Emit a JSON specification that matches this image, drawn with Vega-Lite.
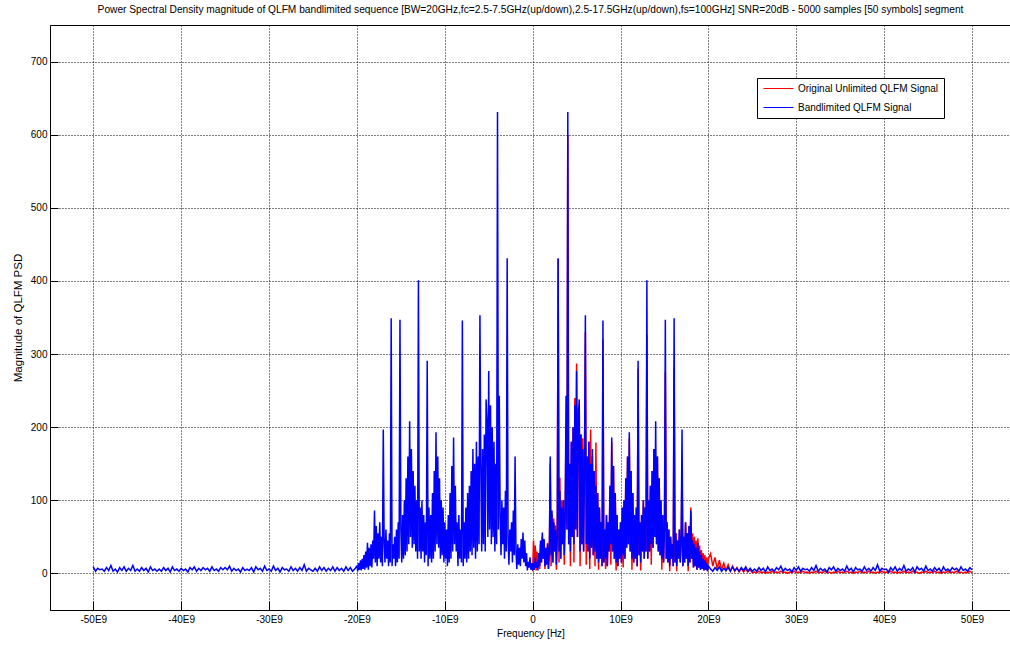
{
"$schema": "https://vega.github.io/schema/vega-lite/v6.json",
"autosize": "none",
"width": 961,
"height": 585,
"padding": {"left": 50, "top": 25, "right": 0, "bottom": 38},
"background": "white",
"title": {"text": "Power Spectral Density magnitude of QLFM bandlimited sequence [BW=20GHz,fc=2.5-7.5GHz(up/down),2.5-17.5GHz(up/down),fs=100GHz] SNR=20dB - 5000 samples [50 symbols] segment", "font": "Liberation Sans", "fontSize": 10.2, "fontWeight": "normal", "color": "#000", "anchor": "middle", "offset": 10},
"config": {
"view": {"stroke": "#000", "strokeWidth": 1},
"font": "Liberation Sans",
"axis": {"grid": true, "gridColor": "#000", "gridDash": [1,2], "gridWidth": 1, "gridOpacity": 1,
"domainColor": "#000", "domainWidth": 1, "tickColor": "#000", "tickWidth": 1,
"labelFont": "Liberation Sans", "labelFontSize": 10, "labelColor": "#000", "labelFlush": false, "labelOverlap": false,
"titleFont": "Liberation Sans", "titleFontWeight": "normal", "titleColor": "#000"},
"axisX": {"tickSize": -9, "labelPadding": 13, "titleFontSize": 10, "titlePadding": 4},
"axisY": {"tickSize": -8, "labelPadding": 11, "titleFontSize": 11.5, "titlePadding": 7}
},
"datasets": {"psd": [
{"f":0,"b":4,"r":3},{"f":0.1,"b":14,"r":45},{"f":0.2,"b":5,"r":8},{"f":0.3,"b":22,"r":38},{"f":0.4,"b":8,"r":4},{"f":0.5,"b":16,"r":30},{"f":0.6,"b":4,"r":9},{"f":0.7,"b":28,"r":22},{"f":0.8,"b":10,"r":6},{"f":0.9,"b":45,"r":40},
{"f":1,"b":15,"r":15},{"f":1.1,"b":56,"r":50},{"f":1.2,"b":20,"r":20},{"f":1.3,"b":47,"r":45},{"f":1.4,"b":10,"r":6},{"f":1.5,"b":35,"r":30},{"f":1.6,"b":12,"r":12},{"f":1.7,"b":40,"r":42},{"f":1.8,"b":6,"r":6},{"f":1.9,"b":30,"r":28},
{"f":2,"b":160,"r":150},{"f":2.1,"b":25,"r":10},{"f":2.2,"b":86,"r":81},{"f":2.3,"b":15,"r":15},{"f":2.4,"b":70,"r":75},{"f":2.5,"b":30,"r":30},{"f":2.6,"b":60,"r":66},{"f":2.7,"b":12,"r":5},{"f":2.8,"b":50,"r":50},{"f":2.9,"b":431,"r":430},
{"f":3,"b":30,"r":15},{"f":3.1,"b":113,"r":131},{"f":3.2,"b":20,"r":20},{"f":3.3,"b":90,"r":100},{"f":3.4,"b":40,"r":40},{"f":3.5,"b":100,"r":100},{"f":3.6,"b":25,"r":12},{"f":3.7,"b":80,"r":80},{"f":3.8,"b":243,"r":200},{"f":3.9,"b":60,"r":60},
{"f":4,"b":631,"r":600},{"f":4.1,"b":40,"r":40},{"f":4.2,"b":150,"r":150},{"f":4.3,"b":30,"r":10},{"f":4.4,"b":180,"r":180},{"f":4.5,"b":50,"r":50},{"f":4.6,"b":200,"r":200},{"f":4.7,"b":40,"r":15},{"f":4.8,"b":230,"r":240},{"f":4.9,"b":60,"r":60},
{"f":5,"b":277,"r":287},{"f":5.1,"b":50,"r":50},{"f":5.2,"b":210,"r":225},{"f":5.3,"b":238,"r":230},{"f":5.4,"b":30,"r":10},{"f":5.5,"b":190,"r":190},{"f":5.6,"b":40,"r":40},{"f":5.7,"b":170,"r":185},{"f":5.8,"b":30,"r":30},{"f":5.9,"b":150,"r":150},
{"f":6,"b":353,"r":330},{"f":6.1,"b":40,"r":12},{"f":6.2,"b":160,"r":160},{"f":6.3,"b":30,"r":30},{"f":6.4,"b":180,"r":180},{"f":6.5,"b":20,"r":6},{"f":6.6,"b":150,"r":197},{"f":6.7,"b":35,"r":35},{"f":6.8,"b":170,"r":160},{"f":6.9,"b":25,"r":25},
{"f":7,"b":140,"r":140},{"f":7.1,"b":30,"r":10},{"f":7.2,"b":120,"r":179},{"f":7.3,"b":20,"r":20},{"f":7.4,"b":110,"r":110},{"f":7.5,"b":15,"r":5},{"f":7.6,"b":90,"r":90},{"f":7.7,"b":20,"r":20},{"f":7.8,"b":70,"r":70},{"f":7.9,"b":10,"r":10},
{"f":8,"b":346,"r":320},{"f":8.1,"b":15,"r":15},{"f":8.2,"b":60,"r":60},{"f":8.3,"b":20,"r":6},{"f":8.4,"b":80,"r":80},{"f":8.5,"b":10,"r":10},{"f":8.6,"b":70,"r":70},{"f":8.7,"b":30,"r":30},{"f":8.8,"b":120,"r":120},{"f":8.9,"b":40,"r":12},
{"f":9,"b":186,"r":180},{"f":9.1,"b":30,"r":30},{"f":9.2,"b":147,"r":147},{"f":9.3,"b":20,"r":20},{"f":9.4,"b":110,"r":110},{"f":9.5,"b":15,"r":4},{"f":9.6,"b":80,"r":80},{"f":9.7,"b":10,"r":10},{"f":9.8,"b":60,"r":60},{"f":9.9,"b":20,"r":20},
{"f":10,"b":70,"r":70},{"f":10.1,"b":15,"r":15},{"f":10.2,"b":90,"r":90},{"f":10.3,"b":25,"r":8},{"f":10.4,"b":100,"r":100},{"f":10.5,"b":20,"r":20},{"f":10.6,"b":130,"r":130},{"f":10.7,"b":35,"r":35},{"f":10.8,"b":160,"r":160},{"f":10.9,"b":40,"r":40},
{"f":11,"b":193,"r":185},{"f":11.1,"b":30,"r":30},{"f":11.2,"b":140,"r":140},{"f":11.3,"b":20,"r":5},{"f":11.4,"b":110,"r":110},{"f":11.5,"b":15,"r":15},{"f":11.6,"b":80,"r":80},{"f":11.7,"b":20,"r":20},{"f":11.8,"b":90,"r":90},{"f":11.9,"b":10,"r":10},
{"f":12,"b":291,"r":280},{"f":12.1,"b":25,"r":25},{"f":12.2,"b":70,"r":70},{"f":12.3,"b":15,"r":4},{"f":12.4,"b":80,"r":80},{"f":12.5,"b":30,"r":30},{"f":12.6,"b":100,"r":100},{"f":12.7,"b":20,"r":20},{"f":12.8,"b":90,"r":90},{"f":12.9,"b":30,"r":30},
{"f":13,"b":401,"r":326},{"f":13.1,"b":20,"r":20},{"f":13.2,"b":100,"r":100},{"f":13.3,"b":30,"r":30},{"f":13.4,"b":120,"r":120},{"f":13.5,"b":40,"r":12},{"f":13.6,"b":140,"r":140},{"f":13.7,"b":35,"r":35},{"f":13.8,"b":170,"r":170},{"f":13.9,"b":50,"r":50},
{"f":14,"b":208,"r":156},{"f":14.1,"b":40,"r":40},{"f":14.2,"b":160,"r":160},{"f":14.3,"b":30,"r":30},{"f":14.4,"b":130,"r":130},{"f":14.5,"b":25,"r":25},{"f":14.6,"b":100,"r":100},{"f":14.7,"b":20,"r":5},{"f":14.8,"b":80,"r":80},{"f":14.9,"b":15,"r":15},
{"f":15,"b":60,"r":60},{"f":15.1,"b":347,"r":275},{"f":15.2,"b":20,"r":20},{"f":15.3,"b":70,"r":70},{"f":15.4,"b":15,"r":15},{"f":15.5,"b":60,"r":60},{"f":15.6,"b":10,"r":3},{"f":15.7,"b":50,"r":50},{"f":15.8,"b":20,"r":20},{"f":15.9,"b":40,"r":40},
{"f":16,"b":10,"r":10},{"f":16.1,"b":349,"r":282},{"f":16.2,"b":15,"r":15},{"f":16.3,"b":55,"r":55},{"f":16.4,"b":10,"r":3},{"f":16.5,"b":45,"r":45},{"f":16.6,"b":20,"r":20},{"f":16.7,"b":60,"r":60},{"f":16.8,"b":15,"r":15},{"f":16.9,"b":40,"r":40},
{"f":17,"b":197,"r":150},{"f":17.1,"b":10,"r":10},{"f":17.2,"b":50,"r":50},{"f":17.3,"b":15,"r":15},{"f":17.4,"b":70,"r":70},{"f":17.5,"b":20,"r":20},{"f":17.6,"b":55,"r":55},{"f":17.7,"b":10,"r":3},{"f":17.8,"b":65,"r":65},{"f":17.9,"b":15,"r":15},
{"f":18,"b":86,"r":90},{"f":18.1,"b":20,"r":20},{"f":18.2,"b":45,"r":55},{"f":18.3,"b":8,"r":8},{"f":18.4,"b":40,"r":50},{"f":18.5,"b":10,"r":10},{"f":18.6,"b":35,"r":45},{"f":18.7,"b":5,"r":5},{"f":18.8,"b":42,"r":48},{"f":18.9,"b":8,"r":8},
{"f":19,"b":30,"r":38},{"f":19.1,"b":5,"r":5},{"f":19.2,"b":25,"r":32},{"f":19.3,"b":6,"r":6},{"f":19.4,"b":20,"r":28},{"f":19.5,"b":4,"r":4},{"f":19.6,"b":18,"r":25},{"f":19.7,"b":5,"r":5},{"f":19.8,"b":14,"r":22},{"f":19.9,"b":3,"r":3},
{"f":20,"b":10,"r":20},{"f":20.25,"b":6,"r":27},{"f":20.5,"b":3,"r":10},{"f":20.75,"b":8,"r":22},{"f":21,"b":4,"r":6},{"f":21.25,"b":9,"r":18},{"f":21.5,"b":3,"r":5},{"f":21.75,"b":7,"r":14},{"f":22,"b":4,"r":4},{"f":22.25,"b":8,"r":12},
{"f":22.5,"b":3,"r":3},{"f":22.75,"b":9,"r":10},{"f":23,"b":4,"r":3},{"f":23.25,"b":7,"r":8},{"f":23.5,"b":3,"r":2},{"f":23.75,"b":8,"r":7},{"f":24,"b":4,"r":2},{"f":24.25,"b":9,"r":6},{"f":24.5,"b":3,"r":2},{"f":24.75,"b":7,"r":5},{"f":25,"b":3,"r":1},
{"f":25.25,"b":6,"r":2},{"f":25.5,"b":3,"r":1},{"f":25.75,"b":8,"r":3},{"f":26,"b":4,"r":1},{"f":26.25,"b":7,"r":2},{"f":26.5,"b":2,"r":0},{"f":26.75,"b":9,"r":2},{"f":27,"b":4,"r":1},{"f":27.25,"b":6,"r":3},{"f":27.5,"b":3,"r":1},
{"f":27.75,"b":8,"r":2},{"f":28,"b":5,"r":1},{"f":28.25,"b":10,"r":3},{"f":28.5,"b":3,"r":1},{"f":28.75,"b":7,"r":2},{"f":29,"b":4,"r":0},{"f":29.25,"b":6,"r":2},{"f":29.5,"b":2,"r":1},{"f":29.75,"b":8,"r":3},{"f":30,"b":4,"r":1},
{"f":30.25,"b":9,"r":2},{"f":30.5,"b":3,"r":1},{"f":30.75,"b":7,"r":3},{"f":31,"b":5,"r":1},{"f":31.25,"b":6,"r":2},{"f":31.5,"b":3,"r":0},{"f":31.75,"b":8,"r":2},{"f":32,"b":4,"r":1},{"f":32.25,"b":11,"r":3},{"f":32.5,"b":3,"r":1},
{"f":32.75,"b":7,"r":2},{"f":33,"b":4,"r":1},{"f":33.25,"b":6,"r":3},{"f":33.5,"b":2,"r":1},{"f":33.75,"b":8,"r":2},{"f":34,"b":5,"r":0},{"f":34.25,"b":9,"r":2},{"f":34.5,"b":3,"r":1},{"f":34.75,"b":7,"r":3},{"f":35,"b":4,"r":1},
{"f":35.25,"b":6,"r":2},{"f":35.5,"b":3,"r":1},{"f":35.75,"b":10,"r":3},{"f":36,"b":4,"r":1},{"f":36.25,"b":7,"r":2},{"f":36.5,"b":2,"r":0},{"f":36.75,"b":8,"r":2},{"f":37,"b":5,"r":1},{"f":37.25,"b":6,"r":3},{"f":37.5,"b":3,"r":1},
{"f":37.75,"b":9,"r":2},{"f":38,"b":4,"r":1},{"f":38.25,"b":7,"r":3},{"f":38.5,"b":3,"r":1},{"f":38.75,"b":8,"r":2},{"f":39,"b":4,"r":0},{"f":39.25,"b":12,"r":2},{"f":39.5,"b":3,"r":1},{"f":39.75,"b":7,"r":3},{"f":40,"b":5,"r":1},
{"f":40.25,"b":6,"r":2},{"f":40.5,"b":2,"r":1},{"f":40.75,"b":8,"r":3},{"f":41,"b":4,"r":1},{"f":41.25,"b":9,"r":2},{"f":41.5,"b":3,"r":0},{"f":41.75,"b":7,"r":2},{"f":42,"b":4,"r":1},{"f":42.25,"b":11,"r":3},{"f":42.5,"b":3,"r":1},
{"f":42.75,"b":6,"r":2},{"f":43,"b":4,"r":1},{"f":43.25,"b":8,"r":3},{"f":43.5,"b":2,"r":1},{"f":43.75,"b":9,"r":2},{"f":44,"b":5,"r":0},{"f":44.25,"b":7,"r":2},{"f":44.5,"b":3,"r":1},{"f":44.75,"b":10,"r":3},{"f":45,"b":4,"r":1},
{"f":45.25,"b":6,"r":2},{"f":45.5,"b":3,"r":1},{"f":45.75,"b":8,"r":3},{"f":46,"b":4,"r":1},{"f":46.25,"b":7,"r":2},{"f":46.5,"b":2,"r":0},{"f":46.75,"b":9,"r":2},{"f":47,"b":4,"r":1},{"f":47.25,"b":6,"r":3},{"f":47.5,"b":3,"r":1},
{"f":47.75,"b":8,"r":2},{"f":48,"b":5,"r":1},{"f":48.25,"b":7,"r":3},{"f":48.5,"b":3,"r":1},{"f":48.75,"b":9,"r":2},{"f":49,"b":4,"r":0},{"f":49.25,"b":6,"r":2},{"f":49.5,"b":3,"r":1},{"f":49.75,"b":8,"r":3},{"f":50,"b":5,"r":1},
{"f":-0.1,"b":14},{"f":-0.2,"b":5},{"f":-0.3,"b":22},{"f":-0.4,"b":8},{"f":-0.5,"b":16},{"f":-0.6,"b":4},{"f":-0.7,"b":28},{"f":-0.8,"b":10},{"f":-0.9,"b":45},{"f":-1,"b":15},
{"f":-1.1,"b":56},{"f":-1.2,"b":20},{"f":-1.3,"b":47},{"f":-1.4,"b":10},{"f":-1.5,"b":35},{"f":-1.6,"b":12},{"f":-1.7,"b":40},{"f":-1.8,"b":6},{"f":-1.9,"b":30},{"f":-2,"b":160},
{"f":-2.1,"b":25},{"f":-2.2,"b":86},{"f":-2.3,"b":15},{"f":-2.4,"b":70},{"f":-2.5,"b":30},{"f":-2.6,"b":60},{"f":-2.7,"b":12},{"f":-2.8,"b":50},{"f":-2.9,"b":431},{"f":-3,"b":30},
{"f":-3.1,"b":113},{"f":-3.2,"b":20},{"f":-3.3,"b":90},{"f":-3.4,"b":40},{"f":-3.5,"b":100},{"f":-3.6,"b":25},{"f":-3.7,"b":80},{"f":-3.8,"b":243},{"f":-3.9,"b":60},{"f":-4,"b":631},
{"f":-4.1,"b":40},{"f":-4.2,"b":150},{"f":-4.3,"b":30},{"f":-4.4,"b":180},{"f":-4.5,"b":50},{"f":-4.6,"b":200},{"f":-4.7,"b":40},{"f":-4.8,"b":230},{"f":-4.9,"b":60},{"f":-5,"b":277},
{"f":-5.1,"b":50},{"f":-5.2,"b":210},{"f":-5.3,"b":238},{"f":-5.4,"b":30},{"f":-5.5,"b":190},{"f":-5.6,"b":40},{"f":-5.7,"b":170},{"f":-5.8,"b":30},{"f":-5.9,"b":150},{"f":-6,"b":353},
{"f":-6.1,"b":40},{"f":-6.2,"b":160},{"f":-6.3,"b":30},{"f":-6.4,"b":180},{"f":-6.5,"b":20},{"f":-6.6,"b":150},{"f":-6.7,"b":35},{"f":-6.8,"b":170},{"f":-6.9,"b":25},{"f":-7,"b":140},
{"f":-7.1,"b":30},{"f":-7.2,"b":120},{"f":-7.3,"b":20},{"f":-7.4,"b":110},{"f":-7.5,"b":15},{"f":-7.6,"b":90},{"f":-7.7,"b":20},{"f":-7.8,"b":70},{"f":-7.9,"b":10},{"f":-8,"b":346},
{"f":-8.1,"b":15},{"f":-8.2,"b":60},{"f":-8.3,"b":20},{"f":-8.4,"b":80},{"f":-8.5,"b":10},{"f":-8.6,"b":70},{"f":-8.7,"b":30},{"f":-8.8,"b":120},{"f":-8.9,"b":40},{"f":-9,"b":186},
{"f":-9.1,"b":30},{"f":-9.2,"b":147},{"f":-9.3,"b":20},{"f":-9.4,"b":110},{"f":-9.5,"b":15},{"f":-9.6,"b":80},{"f":-9.7,"b":10},{"f":-9.8,"b":60},{"f":-9.9,"b":20},{"f":-10,"b":70},
{"f":-10.1,"b":15},{"f":-10.2,"b":90},{"f":-10.3,"b":25},{"f":-10.4,"b":100},{"f":-10.5,"b":20},{"f":-10.6,"b":130},{"f":-10.7,"b":35},{"f":-10.8,"b":160},{"f":-10.9,"b":40},{"f":-11,"b":193},
{"f":-11.1,"b":30},{"f":-11.2,"b":140},{"f":-11.3,"b":20},{"f":-11.4,"b":110},{"f":-11.5,"b":15},{"f":-11.6,"b":80},{"f":-11.7,"b":20},{"f":-11.8,"b":90},{"f":-11.9,"b":10},{"f":-12,"b":291},
{"f":-12.1,"b":25},{"f":-12.2,"b":70},{"f":-12.3,"b":15},{"f":-12.4,"b":80},{"f":-12.5,"b":30},{"f":-12.6,"b":100},{"f":-12.7,"b":20},{"f":-12.8,"b":90},{"f":-12.9,"b":30},{"f":-13,"b":401},
{"f":-13.1,"b":20},{"f":-13.2,"b":100},{"f":-13.3,"b":30},{"f":-13.4,"b":120},{"f":-13.5,"b":40},{"f":-13.6,"b":140},{"f":-13.7,"b":35},{"f":-13.8,"b":170},{"f":-13.9,"b":50},{"f":-14,"b":208},
{"f":-14.1,"b":40},{"f":-14.2,"b":160},{"f":-14.3,"b":30},{"f":-14.4,"b":130},{"f":-14.5,"b":25},{"f":-14.6,"b":100},{"f":-14.7,"b":20},{"f":-14.8,"b":80},{"f":-14.9,"b":15},{"f":-15,"b":60},
{"f":-15.1,"b":347},{"f":-15.2,"b":20},{"f":-15.3,"b":70},{"f":-15.4,"b":15},{"f":-15.5,"b":60},{"f":-15.6,"b":10},{"f":-15.7,"b":50},{"f":-15.8,"b":20},{"f":-15.9,"b":40},{"f":-16,"b":10},
{"f":-16.1,"b":349},{"f":-16.2,"b":15},{"f":-16.3,"b":55},{"f":-16.4,"b":10},{"f":-16.5,"b":45},{"f":-16.6,"b":20},{"f":-16.7,"b":60},{"f":-16.8,"b":15},{"f":-16.9,"b":40},{"f":-17,"b":197},
{"f":-17.1,"b":10},{"f":-17.2,"b":50},{"f":-17.3,"b":15},{"f":-17.4,"b":70},{"f":-17.5,"b":20},{"f":-17.6,"b":55},{"f":-17.7,"b":10},{"f":-17.8,"b":65},{"f":-17.9,"b":15},{"f":-18,"b":86},
{"f":-18.1,"b":20},{"f":-18.2,"b":45},{"f":-18.3,"b":8},{"f":-18.4,"b":40},{"f":-18.5,"b":10},{"f":-18.6,"b":35},{"f":-18.7,"b":5},{"f":-18.8,"b":42},{"f":-18.9,"b":8},{"f":-19,"b":30},
{"f":-19.1,"b":5},{"f":-19.2,"b":25},{"f":-19.3,"b":6},{"f":-19.4,"b":20},{"f":-19.5,"b":4},{"f":-19.6,"b":18},{"f":-19.7,"b":5},{"f":-19.8,"b":14},{"f":-19.9,"b":3},{"f":-20,"b":10},
{"f":-20.25,"b":6},{"f":-20.5,"b":3},{"f":-20.75,"b":8},{"f":-21,"b":4},{"f":-21.25,"b":9},{"f":-21.5,"b":3},{"f":-21.75,"b":7},{"f":-22,"b":4},{"f":-22.25,"b":8},{"f":-22.5,"b":3},
{"f":-22.75,"b":9},{"f":-23,"b":4},{"f":-23.25,"b":7},{"f":-23.5,"b":3},{"f":-23.75,"b":8},{"f":-24,"b":4},{"f":-24.25,"b":9},{"f":-24.5,"b":3},{"f":-24.75,"b":7},{"f":-25,"b":3},
{"f":-50,"b":9},{"f":-49.75,"b":3},{"f":-49.5,"b":7},{"f":-49.25,"b":5},{"f":-49,"b":6},{"f":-48.75,"b":3},{"f":-48.5,"b":8},{"f":-48.25,"b":4},{"f":-48,"b":11},{"f":-47.75,"b":3},
{"f":-47.5,"b":6},{"f":-47.25,"b":2},{"f":-47,"b":8},{"f":-46.75,"b":4},{"f":-46.5,"b":9},{"f":-46.25,"b":3},{"f":-46,"b":7},{"f":-45.75,"b":4},{"f":-45.5,"b":11},{"f":-45.25,"b":3},
{"f":-45,"b":6},{"f":-44.75,"b":3},{"f":-44.5,"b":8},{"f":-44.25,"b":4},{"f":-44,"b":7},{"f":-43.75,"b":2},{"f":-43.5,"b":9},{"f":-43.25,"b":4},{"f":-43,"b":6},{"f":-42.75,"b":3},
{"f":-42.5,"b":6},{"f":-42.25,"b":3},{"f":-42,"b":8},{"f":-41.75,"b":4},{"f":-41.5,"b":7},{"f":-41.25,"b":2},{"f":-41,"b":9},{"f":-40.75,"b":4},{"f":-40.5,"b":6},{"f":-40.25,"b":3},
{"f":-40,"b":7},{"f":-39.75,"b":4},{"f":-39.5,"b":6},{"f":-39.25,"b":2},{"f":-39,"b":8},{"f":-38.75,"b":5},{"f":-38.5,"b":9},{"f":-38.25,"b":3},{"f":-38,"b":7},{"f":-37.75,"b":4},
{"f":-37.5,"b":8},{"f":-37.25,"b":5},{"f":-37,"b":7},{"f":-36.75,"b":3},{"f":-36.5,"b":9},{"f":-36.25,"b":4},{"f":-36,"b":6},{"f":-35.75,"b":3},{"f":-35.5,"b":8},{"f":-35.25,"b":5},
{"f":-35,"b":8},{"f":-34.75,"b":5},{"f":-34.5,"b":10},{"f":-34.25,"b":3},{"f":-34,"b":7},{"f":-33.75,"b":4},{"f":-33.5,"b":6},{"f":-33.25,"b":2},{"f":-33,"b":8},{"f":-32.75,"b":4},
{"f":-32.5,"b":6},{"f":-32.25,"b":4},{"f":-32,"b":8},{"f":-31.75,"b":2},{"f":-31.5,"b":9},{"f":-31.25,"b":5},{"f":-31,"b":7},{"f":-30.75,"b":3},{"f":-30.5,"b":10},{"f":-30.25,"b":4},
{"f":-30,"b":6},{"f":-29.75,"b":3},{"f":-29.5,"b":10},{"f":-29.25,"b":4},{"f":-29,"b":7},{"f":-28.75,"b":2},{"f":-28.5,"b":8},{"f":-28.25,"b":5},{"f":-28,"b":6},{"f":-27.75,"b":3},
{"f":-27.5,"b":9},{"f":-27.25,"b":4},{"f":-27,"b":7},{"f":-26.75,"b":3},{"f":-26.5,"b":8},{"f":-26.25,"b":4},{"f":-26,"b":12},{"f":-25.75,"b":3},{"f":-25.5,"b":7},{"f":-25.25,"b":5}
]},
"data": {"name": "psd"},
"layer": [
{
"transform": [{"filter": "isValid(datum.r)"}],
"mark": {"type": "line", "strokeWidth": 1.5, "clip": true},
"encoding": {
"x": {"field": "f", "type": "quantitative",
"scale": {"domain": [-54.93, 54.44], "nice": false, "zero": false},
"axis": {"values": [-50,-40,-30,-20,-10,0,10,20,30,40,50], "labelExpr": "datum.value == 0 ? '0' : datum.value + 'E9'", "title": "Frequency [Hz]"}},
"y": {"field": "r", "type": "quantitative",
"scale": {"domain": [-50, 750], "nice": false, "zero": false},
"axis": {"values": [0,100,200,300,400,500,600,700], "title": "Magnitude of QLFM PSD"}},
"color": {"datum": "Original Unlimited QLFM Signal",
"scale": {"domain": ["Original Unlimited QLFM Signal", "Bandlimited QLFM Signal"], "range": ["#ff0000", "#0000ff"]},
"legend": {"title": null, "orient": "none", "legendX": 707, "legendY": 53, "symbolType": "M-3,0H3", "symbolSize": 100, "symbolStrokeWidth": 1,
"symbolOffset": 11, "strokeColor": "#000", "fillColor": "#fff", "padding": 5, "rowPadding": 8, "labelOffset": 14,
"labelFont": "Liberation Sans", "labelFontSize": 10, "labelColor": "#000"}}
}
},
{
"mark": {"type": "line", "strokeWidth": 1.5, "clip": true},
"encoding": {
"x": {"field": "f", "type": "quantitative",
"axis": {"values": [-50,-40,-30,-20,-10,0,10,20,30,40,50], "labelExpr": "datum.value == 0 ? '0' : datum.value + 'E9'", "title": "Frequency [Hz]"}},
"y": {"field": "b", "type": "quantitative",
"axis": {"values": [0,100,200,300,400,500,600,700], "title": "Magnitude of QLFM PSD"}},
"color": {"datum": "Bandlimited QLFM Signal"}
}
}
]
}
